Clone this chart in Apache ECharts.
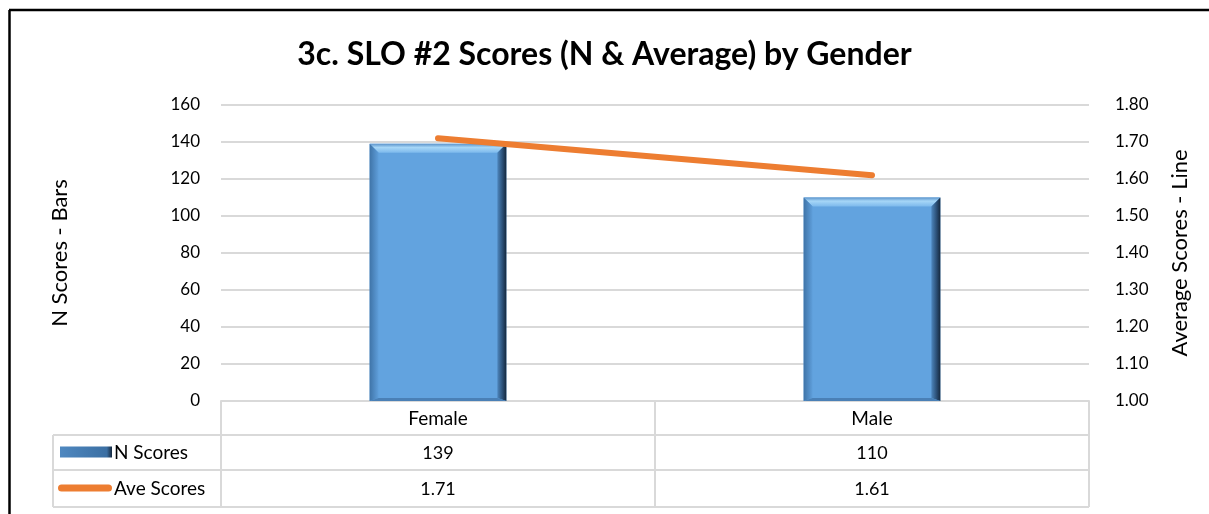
<!DOCTYPE html>
<html>
<head>
<meta charset="utf-8">
<script src="https://cdn.jsdelivr.net/npm/echarts@6/dist/echarts.min.js"></script>
<style>
html, body { margin: 0; padding: 0; background: #fff; }
#chart { width: 1209px; height: 514px; }
</style>
</head>
<body>
<div id="chart"></div>
<script>
var categories = ['Female', 'Male'];
var nScores = [139, 110];
var aveScores = [1.71, 1.61];
var seriesNames = ['N Scores', 'Ave Scores'];

var FONT = 'Lato, "Open Sans", sans-serif';
var gridLine = '#d9d9d9';

// bevelled bar, like the office chart
function renderBevelBar(params, api) {
	var val = api.value(1);
	var top = api.coord([api.value(0), val]);
	var base = api.coord([api.value(0), 0]);
	var w = api.size([1, 0])[0] * 0.315;
	var x0 = top[0] - w / 2, x1 = top[0] + w / 2;
	var y0 = top[1], y1 = base[1];
	var b = 9, bb = 3;
	return {
		type: 'group',
		children: [
			{ type: 'rect', shape: { x: x0, y: y0, width: w, height: y1 - y0 }, style: { fill: '#62a3df' } },
			{ type: 'polygon', shape: { points: [[x0, y0], [x1, y0], [x1 - b, y0 + b], [x0 + b, y0 + b]] },
				style: { fill: new echarts.graphic.LinearGradient(0, 0, 0, 1, [{ offset: 0, color: '#5d95cc' }, { offset: 0.4, color: '#a6d6f7' }, { offset: 1, color: '#7cb9ec' }]) } },
			{ type: 'polygon', shape: { points: [[x0, y0], [x0 + b, y0 + b], [x0 + b, y1 - bb], [x0, y1]] },
				style: { fill: new echarts.graphic.LinearGradient(0, 0, 1, 0, [{ offset: 0, color: '#3f74a8' }, { offset: 1, color: '#5f9fdb' }]) } },
			{ type: 'polygon', shape: { points: [[x1, y0], [x1 - b, y0 + b], [x1 - b, y1 - bb], [x1, y1]] },
				style: { fill: new echarts.graphic.LinearGradient(0, 0, 1, 0, [{ offset: 0, color: '#4d86bd' }, { offset: 0.6, color: '#2a4d73' }, { offset: 1, color: '#15283d' }]) } },
			{ type: 'polygon', shape: { points: [[x0, y1], [x0 + b, y1 - bb], [x1 - b, y1 - bb], [x1, y1]] },
				style: { fill: '#4a80b6' } }
		]
	};
}

var chart = echarts.init(document.getElementById('chart'));
chart.setOption({
	animation: false,
	textStyle: { fontFamily: FONT },
	title: {
		text: '3c. SLO #2 Scores (N & Average) by Gender',
		left: 'center',
		top: 34,
		textStyle: { fontFamily: FONT, fontSize: 32, fontWeight: 'bold', color: '#000' }
	},
	grid: { left: 221, right: 120, top: 105, bottom: 113 },
	legend: { show: false, data: seriesNames },
	xAxis: {
		type: 'category',
		data: categories,
		axisLine: { lineStyle: { color: gridLine, width: 2 } },
		axisTick: { show: false },
		axisLabel: { fontFamily: FONT, fontSize: 19, color: '#000', margin: 8 }
	},
	yAxis: [{
		type: 'value',
		min: 0,
		max: 160,
		interval: 20,
		name: 'N Scores - Bars',
		nameLocation: 'middle',
		nameGap: 150,
		nameTextStyle: { fontFamily: FONT, fontSize: 22, color: '#000' },
		axisLabel: { fontFamily: FONT, fontSize: 17, color: '#000', margin: 21 },
		splitLine: { lineStyle: { color: gridLine, width: 2 } }
	}, {
		type: 'value',
		min: 1.0,
		max: 1.8,
		interval: 0.1,
		name: 'Average Scores - Line',
		nameLocation: 'middle',
		nameGap: 80,
		nameRotate: 90,
		nameTextStyle: { fontFamily: FONT, fontSize: 22, color: '#000' },
		axisLabel: { fontFamily: FONT, fontSize: 17, color: '#000', margin: 26, formatter: function (v) { return v.toFixed(2); } },
		splitLine: { show: false }
	}],
	series: [{
		name: seriesNames[0],
		type: 'custom',
		renderItem: renderBevelBar,
		itemStyle: { color: '#62a3df' },
		encode: { x: 0, y: 1 },
		data: categories.map(function (c, i) { return [i, nScores[i]]; }),
		z: 2
	}, {
		name: seriesNames[1],
		type: 'line',
		yAxisIndex: 1,
		data: aveScores,
		showSymbol: false,
		symbol: 'none',
		lineStyle: { color: '#ed7d31', width: 6, cap: 'round' },
		itemStyle: { color: '#ed7d31' },
		z: 3
	}]
});

// data table under the plot
var c0 = chart.convertToPixel({ xAxisIndex: 0 }, 0);
var step = chart.convertToPixel({ xAxisIndex: 0 }, 1) - c0;
var axisY = chart.convertToPixel({ yAxisIndex: 0 }, 0);
var leftX = c0 - step / 2;
var rightX = leftX + step * categories.length;
var rows = [axisY, axisY + 34, axisY + 69, axisY + 106];
var tableLeft = 53;
var lineStyle = { stroke: gridLine, lineWidth: 2 };
var g = [];
// frame around the chart
g.push({ type: 'line', shape: { x1: 9, y1: 10, x2: 1209, y2: 10 }, style: { stroke: '#000', lineWidth: 2.5 } });
g.push({ type: 'line', shape: { x1: 9.5, y1: 10, x2: 9.5, y2: 514 }, style: { stroke: '#000', lineWidth: 2.5 } });
// horizontal lines
for (var h = 1; h < rows.length; h++) {
	g.push({ type: 'line', shape: { x1: tableLeft, y1: rows[h], x2: rightX, y2: rows[h] }, style: lineStyle });
}
// vertical lines
g.push({ type: 'line', shape: { x1: tableLeft, y1: rows[1], x2: tableLeft, y2: rows[3] }, style: lineStyle });
for (var k = 0; k <= categories.length; k++) {
	var vx = leftX + step * k;
	g.push({ type: 'line', shape: { x1: vx, y1: rows[0], x2: vx, y2: rows[3] }, style: lineStyle });
}
// legend keys in the first column
var r1 = (rows[1] + rows[2]) / 2, r2 = (rows[2] + rows[3]) / 2;
g.push({ type: 'rect', shape: { x: 60, y: r1 - 6, width: 52, height: 11 },
	style: { fill: new echarts.graphic.LinearGradient(0, 0, 1, 0, [{ offset: 0, color: '#4f88c0' }, { offset: 0.9, color: '#3b6fa3' }, { offset: 1, color: '#15283d' }]) } });
g.push({ type: 'rect', shape: { x: 58, y: r2 - 4, width: 54, height: 7, r: 3.5 }, style: { fill: '#ed7d31' } });
g.push({ type: 'text', x: 114, y: r1, style: { text: seriesNames[0], fontFamily: FONT, fontSize: 19, fill: '#000', verticalAlign: 'middle' } });
g.push({ type: 'text', x: 114, y: r2, style: { text: seriesNames[1], fontFamily: FONT, fontSize: 19, fill: '#000', verticalAlign: 'middle' } });
// values
var tableRows = [nScores.map(String), aveScores.map(function (v) { return v.toFixed(2); })];
tableRows.forEach(function (vals, r) {
	vals.forEach(function (v, i) {
		g.push({
			type: 'text',
			x: chart.convertToPixel({ xAxisIndex: 0 }, i),
			y: (rows[r + 1] + rows[r + 2]) / 2 + 1,
			style: { text: v, fontFamily: FONT, fontSize: 18, fill: '#000', align: 'center', verticalAlign: 'middle' }
		});
	});
});
chart.setOption({ graphic: g });
</script>
</body>
</html>
